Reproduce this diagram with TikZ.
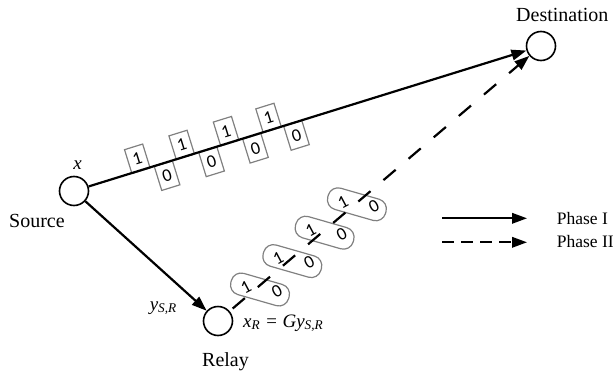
\documentclass[tikz,border=0pt]{standalone}
\usepackage{fontspec}
\setmainfont{Liberation Serif}
\newfontfamily\digitfont{Carlito}
\usetikzlibrary{arrows.meta}
\definecolor{boxgray}{RGB}{128,128,128}
\begin{document}
\begin{tikzpicture}[x=1pt,y=-1pt,
  station/.style={circle,draw,line width=1.6pt,minimum size=29pt,inner sep=0pt},
  lbl/.style={font=\fontsize{20}{24}\selectfont,inner sep=0pt,anchor=base west},
  mathlbl/.style={font=\fontsize{19}{22}\selectfont\itshape,inner sep=0pt},
  legendlbl/.style={font=\fontsize{17.5}{20}\selectfont,inner sep=0pt,anchor=base west},
  phaseone/.style={line width=2.2pt,-{Triangle[length=15pt,width=10.5pt]}},
  phasetwo/.style={phaseone,dash pattern=on 16pt off 17pt,dash phase=29pt},
  bitbox/.style={draw=boxgray,line width=1.2pt,minimum width=19pt,minimum height=25pt,inner sep=0pt,rotate=17.25,font=\digitfont\fontsize{18}{18}\selectfont},
  bitpill/.style={draw=boxgray,line width=1.2pt,minimum width=60pt,minimum height=22pt,inner sep=0pt,rounded corners=10pt,rotate=-16},
  pilldigit/.style={inner sep=0pt,rotate=28,font=\digitfont\fontsize{18}{18}\selectfont}
]
\useasboundingbox (0,0) rectangle (613,375);

% stations
\node[station] (src) at (74,191) {};
\node[station] (rel) at (218,321) {};
\node[station] (dst) at (541,46) {};

% bit boxes on phase I link
\node[bitbox] (b1) at (137.3,158.8) {1};
\node[bitbox] (b2) at (167.1,175.7) {0};
\node[bitbox] (b3) at (181.7,145.0) {1};
\node[bitbox] (b4) at (211.6,161.9) {0};
\node[bitbox] (b5) at (226.1,131.2) {1};
\node[bitbox] (b6) at (255.5,148.3) {0};
\node[bitbox] (b7) at (268.6,118.0) {1};
\node[bitbox] (b8) at (296.5,135.5) {0};

% pills on phase II link
\node[bitpill] (pa) at (260.0,289.5) {};
\node[bitpill] (pb) at (292.3,261.1) {};
\node[bitpill] (pc) at (324.6,232.7) {};
\node[bitpill] (pd) at (356.9,204.3) {};
\node[pilldigit] (pa1) at (246.0,287.0) {1};
\node[pilldigit] (pa0) at (277.0,291.0) {0};
\node[pilldigit] (pb1) at (278.3,258.6) {1};
\node[pilldigit] (pb0) at (309.3,262.6) {0};
\node[pilldigit] (pc1) at (310.6,230.2) {1};
\node[pilldigit] (pc0) at (341.6,234.2) {0};
\node[pilldigit] (pd1) at (342.9,201.8) {1};
\node[pilldigit] (pd0) at (373.9,205.8) {0};

% links
\draw[phaseone] (src) -- (dst);
\draw[phaseone] (src) -- (rel);
\draw[phasetwo] (rel) -- (dst);

% labels
\node[lbl] (srclbl) at (9,227) {Source};
\node[lbl] (rellbl) at (202,366) {Relay};
\node[lbl] (dstlbl) at (516,21.7) {Destination};
\node[mathlbl,anchor=base] (xlbl) at (77.5,169) {x};
\node[mathlbl,anchor=base east] (ylbl) at (177,310) {y\textsubscript{S,R}};
\node[mathlbl,anchor=base west] (xrlbl) at (243,327) {x\textsubscript{R} = Gy\textsubscript{S,R}};

% legend
\coordinate (l1a) at (442,218.3);
\coordinate (l1b) at (527,218.3);
\coordinate (l2a) at (442,242.3);
\coordinate (l2b) at (527,242.3);
\draw[phaseone,line width=2pt] (l1a) -- (l1b);
\draw[phaseone,line width=2pt,dash pattern=on 12pt off 7pt] (l2a) -- (l2b);
\node[legendlbl] (p1) at (556.7,224.3) {Phase I};
\node[legendlbl] (p2) at (556.7,247.7) {Phase II};
\end{tikzpicture}
\end{document}
